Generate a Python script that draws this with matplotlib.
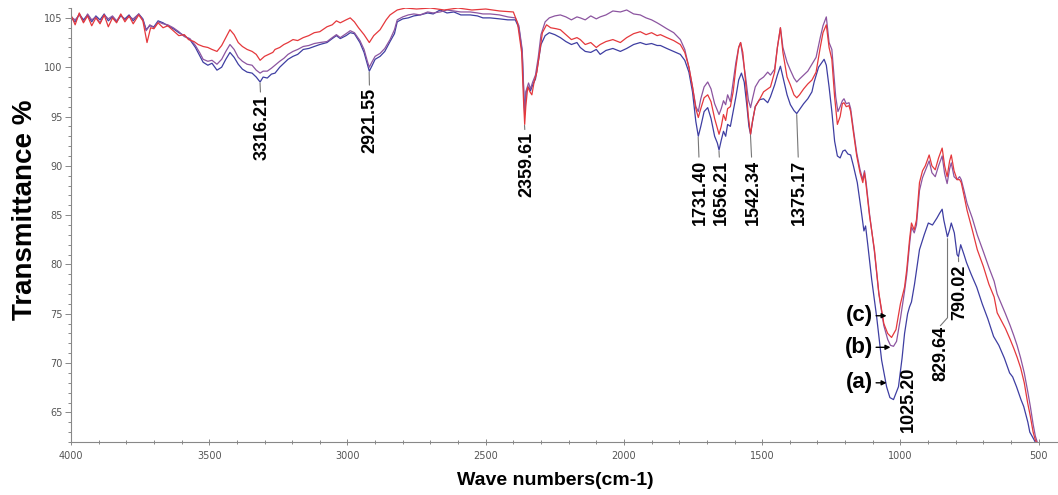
import matplotlib
matplotlib.use("Agg")
import matplotlib.pyplot as plt
from matplotlib.ticker import MultipleLocator

plt.rcParams['font.family'] = ['Liberation Sans', 'DejaVu Sans']

# ---- spectrum (a), blue ----
wn_a = [4000, 3985, 3970, 3955, 3940, 3925, 3910, 3895, 3880, 3865, 3850, 3835, 3820, 3805,
        3790, 3775, 3755, 3740, 3728, 3715, 3700, 3685, 3667, 3650, 3630, 3610, 3590, 3570,
        3550, 3535, 3522, 3505, 3490, 3472, 3455, 3440, 3425, 3410, 3395, 3380, 3363, 3345,
        3330, 3316, 3305, 3290, 3275, 3262, 3245, 3230, 3215, 3197, 3180, 3160, 3140, 3120,
        3100, 3074, 3055, 3040, 3026, 3005, 2990, 2975, 2955, 2940, 2928, 2921, 2912, 2900,
        2882, 2865, 2846, 2830, 2820, 2800, 2780, 2760, 2737, 2710, 2690, 2665, 2640, 2615,
        2590, 2556, 2530, 2510, 2484, 2450, 2420, 2393, 2380, 2368, 2362, 2359, 2354, 2345,
        2338, 2330, 2320, 2310, 2300, 2285, 2270, 2250, 2230, 2210, 2190, 2170, 2158, 2140,
        2120, 2100, 2086, 2065, 2040, 2013, 1990, 1965, 1941, 1920, 1900, 1880, 1868, 1845,
        1820, 1796, 1780, 1765, 1752, 1740, 1731, 1722, 1710, 1697, 1685, 1672, 1662, 1656,
        1648, 1640, 1632, 1625, 1615, 1605, 1595, 1585, 1575, 1565, 1555, 1548, 1542, 1535,
        1525, 1510, 1495, 1480, 1470, 1455, 1445, 1434, 1425, 1410, 1398, 1385, 1375, 1365,
        1350, 1335, 1320, 1312, 1296, 1286, 1276, 1268, 1258, 1248, 1238, 1228, 1218, 1208,
        1200, 1190, 1180, 1170, 1156, 1142, 1132, 1126, 1118, 1104, 1086, 1068, 1050, 1038,
        1025, 1007, 994, 985, 974, 967, 960, 949, 931, 914, 899, 884, 868, 858, 849, 843,
        830, 822, 816, 805, 795, 790, 782, 770, 761, 744, 724, 704, 684, 663, 644, 624, 605,
        594, 580, 564, 554, 539, 532, 518, 505]
t_a = [105.0, 104.6, 105.4, 104.8, 105.3, 104.6, 105.2, 104.8, 105.4, 104.7, 105.1, 104.6, 105.2, 104.9,
       105.3, 104.7, 105.4, 104.9, 103.8, 104.2, 104.1, 104.7, 104.5, 104.2, 103.9, 103.5, 103.2, 102.8,
       102.0, 101.2, 100.5, 100.2, 100.4, 99.7, 100.0, 100.8, 101.5, 101.0, 100.3, 99.8, 99.5, 99.4,
       99.0, 98.5, 99.0, 98.9, 99.3, 99.4, 100.0, 100.4, 100.8, 101.1, 101.3, 101.8, 101.9, 102.1,
       102.3, 102.5, 102.9, 103.2, 102.9, 103.2, 103.5, 103.4, 102.5, 101.5, 100.3, 99.6, 100.1, 100.8,
       101.1, 101.6, 102.6, 103.4, 104.6, 104.9, 105.0, 105.2, 105.3, 105.5, 105.4, 105.8, 105.5, 105.6,
       105.3, 105.3, 105.2, 105.0, 105.0, 104.9, 104.8, 104.8, 104.0, 101.5, 97.0, 95.5, 97.5, 98.0,
       97.6, 98.2, 98.8, 100.5, 102.3, 103.2, 103.5, 103.3, 103.0, 102.6, 102.3, 102.5, 102.0, 101.6,
       101.5, 101.8, 101.3, 101.7, 101.9, 101.6, 101.9, 102.3, 102.5, 102.3, 102.4, 102.2, 102.2, 101.9,
       101.6, 101.3, 100.7, 99.5, 97.5, 94.5, 93.0, 94.0, 95.5, 95.9, 94.8, 93.0, 92.3, 91.6,
       92.6, 93.5, 93.0, 94.2, 94.0, 95.5, 97.0, 98.7, 99.4, 98.5, 96.0, 94.0, 93.2, 94.5,
       96.0, 96.7, 96.8, 96.4, 97.0, 98.2, 99.2, 100.1, 99.0, 97.2, 96.2, 95.6, 95.3, 95.7,
       96.3, 96.8, 97.5, 98.5, 100.0, 100.4, 100.8, 100.2, 98.0, 95.5, 92.5, 91.0, 90.8, 91.5,
       91.6, 91.2, 91.1, 90.0, 88.3, 85.5, 83.4, 83.9, 82.0, 78.5, 74.7, 70.3, 67.6, 66.5,
       66.3, 67.6, 70.5, 73.0, 75.0, 75.7, 76.2, 78.0, 81.5, 83.0, 84.2, 84.0, 84.7, 85.2, 85.6, 84.5,
       82.8, 83.5, 84.2, 83.2, 81.0, 80.8, 82.0, 81.0, 80.2, 79.0, 77.7, 76.0, 74.5, 72.7, 71.8, 70.5, 69.0,
       68.6, 67.6, 66.3, 65.6, 64.0, 63.0, 62.3, 61.6]

# ---- spectrum (b), purple ----
wn_b = [4000, 3985, 3970, 3955, 3940, 3925, 3910, 3895, 3880, 3865, 3850, 3835, 3820, 3805,
        3790, 3775, 3755, 3740, 3728, 3715, 3700, 3685, 3667, 3650, 3630, 3610, 3590, 3570,
        3550, 3535, 3522, 3505, 3490, 3472, 3455, 3440, 3425, 3410, 3395, 3380, 3363, 3345,
        3330, 3316, 3305, 3290, 3275, 3262, 3245, 3230, 3215, 3197, 3180, 3160, 3140, 3120,
        3100, 3074, 3055, 3040, 3026, 3005, 2990, 2975, 2955, 2940, 2928, 2921, 2912, 2900,
        2882, 2865, 2846, 2830, 2820, 2800, 2780, 2760, 2737, 2710, 2690, 2665, 2640, 2615,
        2590, 2556, 2530, 2510, 2484, 2450, 2420, 2393, 2380, 2368, 2362, 2359, 2354, 2345,
        2338, 2330, 2320, 2310, 2300, 2285, 2270, 2250, 2230, 2210, 2190, 2170, 2158, 2140,
        2120, 2100, 2086, 2065, 2040, 2013, 1990, 1965, 1941, 1920, 1900, 1880, 1868, 1845,
        1820, 1796, 1780, 1765, 1752, 1740, 1731, 1722, 1710, 1697, 1685, 1672, 1662, 1656,
        1648, 1640, 1632, 1625, 1615, 1605, 1595, 1585, 1578, 1570, 1560, 1550, 1542, 1535,
        1525, 1510, 1495, 1480, 1470, 1455, 1445, 1434, 1425, 1410, 1398, 1385, 1375, 1365,
        1350, 1335, 1320, 1305, 1290, 1280, 1268, 1258, 1248, 1234, 1226, 1218, 1210, 1204,
        1196, 1186, 1180, 1170, 1158, 1146, 1136, 1130, 1124, 1112, 1094, 1078, 1060, 1046,
        1036, 1025, 1014, 1000, 985, 977, 967, 960, 950, 942, 931, 920, 910, 896, 886, 874,
        862, 849, 840, 831, 822, 816, 806, 795, 786, 780, 770, 759, 740, 722, 700, 680, 661,
        650, 635, 620, 603, 590, 578, 565, 552, 540, 530, 520, 512, 504]
t_b = [105.1, 104.8, 105.3, 104.6, 105.4, 104.8, 105.1, 104.5, 105.3, 104.9, 105.2, 104.7, 105.3, 104.8,
       105.1, 104.9, 105.4, 104.8, 103.7, 104.3, 104.0, 104.6, 104.4, 104.3, 104.0, 103.6, 103.1, 102.9,
       102.2, 101.5, 100.8, 100.6, 100.7, 100.3, 100.8, 101.6, 102.3, 101.8, 101.0, 100.6, 100.3, 100.2,
       99.7, 99.4, 99.6, 99.6, 99.9, 100.2, 100.6, 100.9, 101.3, 101.6, 101.8, 102.1, 102.2, 102.4,
       102.5, 102.6, 103.0, 103.3, 103.0, 103.4, 103.7, 103.5, 102.7, 101.8, 100.6, 100.0, 100.5, 101.1,
       101.4, 101.9, 102.8, 103.8, 104.8, 105.1, 105.3, 105.4, 105.3, 105.6, 105.5, 105.6, 105.8, 105.7,
       105.6, 105.6, 105.5, 105.4, 105.4, 105.3, 105.1, 105.0, 104.2, 101.8, 97.2, 95.2, 97.6, 98.4,
       97.8, 98.5, 99.2, 101.0, 103.3, 104.6, 105.0, 105.2, 105.3, 105.1, 104.8, 105.1, 105.0, 104.8,
       105.2, 104.9, 105.1, 105.3, 105.7, 105.6, 105.8, 105.4, 105.3, 105.0, 104.8, 104.5, 104.3, 103.9,
       103.5, 102.8, 101.8, 100.0, 98.0, 96.0, 95.5, 96.8, 98.0, 98.5, 97.8, 96.3, 95.6, 95.2,
       95.8, 96.6, 96.2, 97.2, 96.5, 98.5, 100.5, 102.0, 102.5, 101.0, 99.0, 96.7, 95.9, 96.8,
       98.0, 98.7, 99.0, 99.5, 99.2, 99.8, 102.0, 104.0, 102.0, 100.5, 99.7, 98.9, 98.5, 98.8,
       99.2, 99.6, 100.3, 101.0, 103.0, 104.2, 105.1, 102.5, 101.8, 97.0, 95.5, 96.0, 96.6, 96.8,
       96.3, 96.4, 95.8, 93.7, 91.3, 89.6, 88.6, 89.5, 88.3, 85.2, 81.3, 77.0, 73.8, 72.4,
       71.8, 71.7, 72.2, 74.5, 77.3, 79.0, 82.0, 83.8, 83.2, 84.0, 87.5, 88.8, 89.5, 90.5, 89.3, 88.9,
       90.0, 91.0, 89.2, 88.2, 89.7, 90.3, 88.9, 88.6, 88.9, 88.6, 87.5, 86.2, 84.7, 83.0, 81.3, 79.7, 78.3,
       77.0, 76.0, 75.0, 73.8, 72.8, 71.8, 70.5, 69.0, 67.2, 65.6, 63.8, 62.6, 61.9]

# ---- spectrum (c), red ----
wn_c = [4000, 3985, 3970, 3955, 3940, 3925, 3910, 3895, 3880, 3865, 3850, 3835, 3820, 3805,
        3790, 3775, 3755, 3740, 3725, 3712, 3700, 3685, 3667, 3650, 3630, 3610, 3590, 3575,
        3555, 3540, 3522, 3505, 3490, 3472, 3455, 3440, 3425, 3410, 3395, 3380, 3363, 3345,
        3330, 3316, 3300, 3285, 3270, 3262, 3245, 3230, 3215, 3197, 3180, 3160, 3140, 3120,
        3100, 3074, 3055, 3040, 3026, 3005, 2990, 2975, 2960, 2940, 2921, 2905, 2882, 2860,
        2846, 2820, 2790, 2750, 2700, 2650, 2600, 2550, 2500, 2450, 2400, 2385, 2370, 2363,
        2359, 2355, 2348, 2340, 2333, 2325, 2315, 2305, 2295, 2280, 2265, 2245, 2230, 2210,
        2190, 2170, 2158, 2140, 2120, 2100, 2086, 2065, 2040, 2013, 1990, 1965, 1941, 1920,
        1900, 1880, 1868, 1845, 1820, 1796, 1780, 1765, 1752, 1740, 1731, 1722, 1710, 1697,
        1685, 1672, 1662, 1656, 1648, 1640, 1632, 1625, 1615, 1605, 1595, 1585, 1578, 1570,
        1560, 1550, 1542, 1535, 1525, 1510, 1495, 1480, 1470, 1455, 1445, 1434, 1425, 1410,
        1398, 1385, 1375, 1365, 1350, 1335, 1320, 1305, 1290, 1280, 1268, 1258, 1248, 1238,
        1228, 1218, 1210, 1204, 1196, 1186, 1180, 1170, 1158, 1146, 1136, 1130, 1124, 1112,
        1094, 1078, 1060, 1046, 1032, 1016, 1000, 985, 977, 967, 960, 950, 942, 931, 920, 910,
        896, 886, 874, 862, 849, 840, 831, 822, 816, 806, 795, 786, 780, 770, 759, 740, 722,
        700, 680, 661, 650, 635, 620, 603, 590, 578, 565, 552, 540, 530, 520, 512, 504]
t_c = [105.3, 104.3, 105.5, 104.5, 105.2, 104.2, 105.0, 104.4, 105.3, 104.1, 105.0, 104.5, 105.4, 104.6,
       105.2, 104.4, 105.3, 104.7, 102.5, 104.0, 103.9, 104.5, 104.0, 104.2, 103.7, 103.2, 103.3, 102.8,
       102.6, 102.3, 102.1, 102.0, 101.8, 101.6, 102.2, 103.0, 103.8, 103.3, 102.5, 102.1, 101.8, 101.6,
       101.3, 100.7, 101.1, 101.3, 101.5, 101.8, 102.0, 102.3, 102.5, 102.8, 102.7, 103.0, 103.2, 103.5,
       103.6, 104.1, 104.3, 104.7, 104.5, 104.8, 105.0, 104.6, 104.0, 103.3, 102.5, 103.2, 103.8, 104.8,
       105.3, 105.8, 106.0, 105.9, 106.0, 105.8, 106.0, 105.8, 105.9, 105.7, 105.6, 104.5, 101.5, 96.5,
       94.2, 96.0, 98.0, 97.5, 97.2, 98.5, 99.5, 101.5, 103.5, 104.3, 104.0, 103.9, 103.8, 103.3,
       102.8, 103.0, 102.8, 102.3, 102.5, 102.0, 102.3, 102.6, 102.8, 102.5, 103.0, 103.4, 103.6, 103.3,
       103.5, 103.2, 103.3, 103.0, 102.7, 102.3, 101.5, 100.0, 98.0, 95.8, 94.9, 95.8, 96.9, 97.2,
       96.5, 94.8, 93.8, 93.2, 94.0, 95.2, 94.6, 95.8, 96.0, 97.5, 100.0, 102.0, 102.5, 101.5,
       98.5, 95.0, 93.2, 94.5, 96.0, 96.7, 97.5, 97.8, 98.0, 99.5, 102.0, 104.0, 101.5, 99.0,
       98.2, 97.2, 96.9, 97.2, 97.8, 98.3, 98.7, 99.5, 102.0, 103.5, 104.3, 102.0, 100.8, 97.0,
       94.2, 95.0, 96.3, 96.4, 96.0, 96.1, 95.5, 93.4, 91.0, 89.3, 88.3, 89.3, 88.0, 85.0,
       81.5, 77.1, 74.0, 73.0, 72.6, 73.4, 76.0, 77.7, 79.5, 82.5, 84.2, 83.5, 84.5, 88.3, 89.5, 90.0,
       91.1, 90.0, 89.6, 90.8, 91.8, 90.0, 88.9, 90.5, 91.1, 89.5, 88.6, 88.6, 88.3, 87.0, 85.5, 83.5, 81.5,
       79.8, 78.0, 76.7, 75.1, 74.3, 73.5, 72.4, 71.5, 70.6, 69.5, 68.0, 66.0, 64.6, 63.0, 62.2, 61.8]

# peak labels and where their text sits (wavenumber, transmittance of text top)
peak_labels = ['3316.21', '2921.55', '2359.61', '1731.40', '1656.21', '1542.34', '1375.17']
peak_tips = [98.4, 99.5, 94.1, 92.9, 91.5, 93.1, 95.2]
peak_text = [(3309, 97.2), (2918, 97.9), (2350, 93.4), (1724, 90.6),
             (1648, 90.6), (1532, 90.6), (1365, 90.6)]

fig = plt.figure(figsize=(10.58, 4.95), dpi=100)
ax = fig.add_axes([0.0671, 0.1071, 0.9329, 0.8767])

ax.plot(wn_a, t_a, color='#3e3ea2', lw=0.9)
ax.plot(wn_b, t_b, color='#8c55a0', lw=0.9)
ax.plot(wn_c, t_c, color='#e5383c', lw=0.9)

ax.set_xlim(4000, 430)
ax.set_ylim(62.0, 106.0)

for s in ['top', 'right']:
    ax.spines[s].set_visible(False)
for s in ['left', 'bottom']:
    ax.spines[s].set_color('#888888')
    ax.spines[s].set_linewidth(0.8)

ax.xaxis.set_major_locator(MultipleLocator(500))
ax.xaxis.set_minor_locator(MultipleLocator(100))
ax.yaxis.set_major_locator(MultipleLocator(5))
ax.yaxis.set_minor_locator(MultipleLocator(1))
ax.tick_params(axis='both', which='both', colors='#888888', labelcolor='#555555',
               labelsize=7, width=0.7)
ax.tick_params(axis='x', which='major', direction='inout', length=5, pad=4)
ax.tick_params(axis='x', which='minor', direction='inout', length=3)
ax.tick_params(axis='y', which='major', direction='out', length=4, pad=2)
ax.tick_params(axis='y', which='minor', direction='out', length=2)
for lab in ax.get_xticklabels() + ax.get_yticklabels():
    lab.set_family('DejaVu Sans')

ax.set_ylabel('Transmittance %', fontsize=20, fontweight='bold')
ax.set_xlabel('Wave numbers(cm-1)', fontsize=14, fontweight='bold')
ax.yaxis.set_label_coords(-0.047, 0.535)
ax.xaxis.set_label_coords(0.491, -0.088)
ax.xaxis.label.set_va('center')
ax.yaxis.label.set_va('center')

lead = dict(arrowstyle='-', color='#777777', lw=0.8, shrinkA=0, shrinkB=0)
for lab, tip, (tx, ty) in zip(peak_labels, peak_tips, peak_text):
    ax.annotate(lab, xy=(float(lab), tip), xytext=(tx, ty), rotation=90,
                ha='center', va='top', fontsize=13, fontweight='bold',
                arrowprops=lead)

# labels near the fingerprint region
ax.text(970, 69.6, '1025.20', rotation=90, ha='center', va='top',
        fontsize=13, fontweight='bold')
ax.plot([829.64, 829.64, 855], [82.6, 74.6, 73.8], color='#777777', lw=0.8)
ax.text(855, 73.8, '829.64', rotation=90, ha='center', va='top',
        fontsize=13, fontweight='bold')
ax.annotate('790.02', xy=(790.02, 80.7), xytext=(786, 80.0), rotation=90,
            ha='center', va='top', fontsize=13, fontweight='bold', arrowprops=lead)

# sample markers
arr = dict(arrowstyle='-|>', color='black', lw=1.0, mutation_scale=7,
           shrinkA=0, shrinkB=0)
for lab, y, xt in [('(c)', 74.8, 1050), ('(b)', 71.6, 1036), ('(a)', 68.0, 1050)]:
    ax.annotate(lab, xy=(xt, y), xytext=(1098, y), ha='right', va='center',
                fontsize=16, fontweight='bold', arrowprops=arr)

fig.savefig('out.png', dpi=100)
